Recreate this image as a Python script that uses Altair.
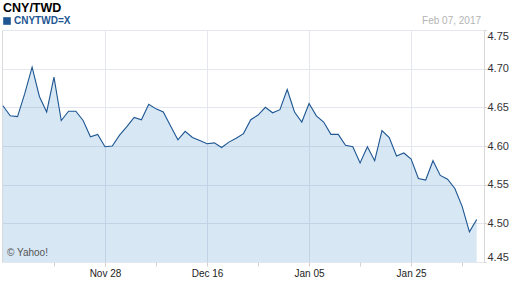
import altair as alt
import pandas as pd

# ---- data (weekday index 0 = Nov 08 2016 ... 65 = Feb 07 2017) ----
series_name = "CNYTWD=X"
rates = [
    4.652, 4.639, 4.638, 4.668, 4.702, 4.664, 4.644, 4.689, 4.633, 4.645,
    4.645, 4.633, 4.612, 4.615, 4.599, 4.600, 4.614, 4.625, 4.637, 4.634,
    4.654, 4.648, 4.644, 4.626, 4.608, 4.619, 4.611, 4.607, 4.603, 4.604,
    4.598, 4.605, 4.610, 4.616, 4.634, 4.640, 4.650, 4.643, 4.647, 4.673,
    4.644, 4.631, 4.655, 4.639, 4.631, 4.615, 4.615, 4.601, 4.599, 4.578,
    4.599, 4.581, 4.620, 4.611, 4.587, 4.591, 4.583, 4.558, 4.556, 4.581,
    4.562, 4.557, 4.545, 4.522, 4.489, 4.505,
]
day_index = list(range(len(rates)))

major_tick_index = [14, 28, 42, 56]
major_tick_labels = ["Nov 28", "Dec 16", "Jan 05", "Jan 25"]
minor_tick_index = [7, 21, 35, 49, 63]
y_ticks = [4.45, 4.50, 4.55, 4.60, 4.65, 4.70, 4.75]

title_text = ["CNY/TWD"]
date_text = ["Feb 07, 2017"]
credit_text = ["\u00a9 Yahoo!"]

df = pd.DataFrame({"i": day_index, "rate": rates, "series": [series_name] * len(rates)})

LINE = "#1d5692"
GRID = "#e4e7ed"

label_map = "{" + ", ".join(f"'{i}': '{l}'" for i, l in zip(major_tick_index, major_tick_labels)) + "}"
label_expr = f"({label_map})[format(datum.value, 'd')] || ''"

x_axis = alt.Axis(
    orient="bottom",
    values=sorted(major_tick_index + minor_tick_index),
    labelExpr=label_expr,
    title=None,
    domain=False,
    grid=True,
    gridColor=GRID,
    gridOpacity={"condition": {"test": "datum.value % 14 === 0", "value": 1}, "value": 0},
    tickSize=4,
    tickColor="#d0d0d0",
    labelPadding=2,
    labelFontSize=10,
    labelColor="#222222",
    labelFont="Liberation Sans",
    labelOverlap=False,
)
y_axis = alt.Axis(
    orient="right",
    values=y_ticks,
    format=".2f",
    title=None,
    grid=True,
    gridColor=GRID,
    domainColor="#d8d8d8",
    tickColor="#d0d0d0",
    tickSize=2,
    labelPadding=1,
    labelFlush=True,
    labelOverlap=False,
    labelFontSize=11,
    labelColor="#333333",
    labelFont="Liberation Sans",
)
x_scale = alt.Scale(domain=[-0.13, 66], nice=False, zero=False)
y_scale = alt.Scale(domain=[4.45, 4.75], nice=False, zero=False)

base = alt.Chart(df)

area = base.mark_area(color="#3d85c6", opacity=0.2).encode(
    x=alt.X("i:Q", scale=x_scale, axis=x_axis),
    y=alt.Y("rate:Q", scale=y_scale, axis=y_axis),
    y2=alt.datum(4.45),
)

line = base.mark_line(strokeWidth=1.1).encode(
    x=alt.X("i:Q", scale=x_scale, axis=x_axis),
    y=alt.Y("rate:Q", scale=y_scale, axis=y_axis),
    color=alt.Color(
        "series:N",
        scale=alt.Scale(range=[LINE]),
        legend=alt.Legend(
            orient="none",
            legendX=0,
            legendY=-14,
            title=None,
            symbolType="square",
            symbolSize=58,
            symbolFillColor=LINE,
            symbolStrokeColor=LINE,
            symbolStrokeWidth=0,
            symbolOpacity=1,
            labelFontSize=10,
            labelFontWeight="bold",
            labelColor=LINE,
            labelFont="Liberation Sans",
            labelOffset=2,
            padding=0,
        ),
    ),
)

title = alt.Chart(pd.DataFrame({"t": title_text})).mark_text(
    align="left", baseline="alphabetic", fontSize=12.5, fontWeight="bold",
    font="Liberation Sans", color="#000000"
).encode(x=alt.value(1), y=alt.value(-18), text="t:N")

date = alt.Chart(pd.DataFrame({"t": date_text})).mark_text(
    align="right", baseline="alphabetic", fontSize=10,
    font="Liberation Sans", color="#b4b4b4"
).encode(x=alt.value(479), y=alt.value(-6.5), text="t:N")

credit = alt.Chart(pd.DataFrame({"t": credit_text})).mark_text(
    align="left", baseline="alphabetic", fontSize=10,
    font="Liberation Sans", color="#555555"
).encode(x=alt.value(5), y=alt.value(226), text="t:N")

chart = (
    alt.layer(area, line, title, date, credit)
    .properties(
        width=482,
        height=232,
        autosize=alt.AutoSizeParams(type="none"),
        padding={"left": 2, "top": 30, "right": 28, "bottom": 26},
        background="white",
    )
    .configure_view(stroke="#dadada", strokeWidth=1)
)

chart.save("out.html", embed_options={"renderer": "svg", "actions": False})
